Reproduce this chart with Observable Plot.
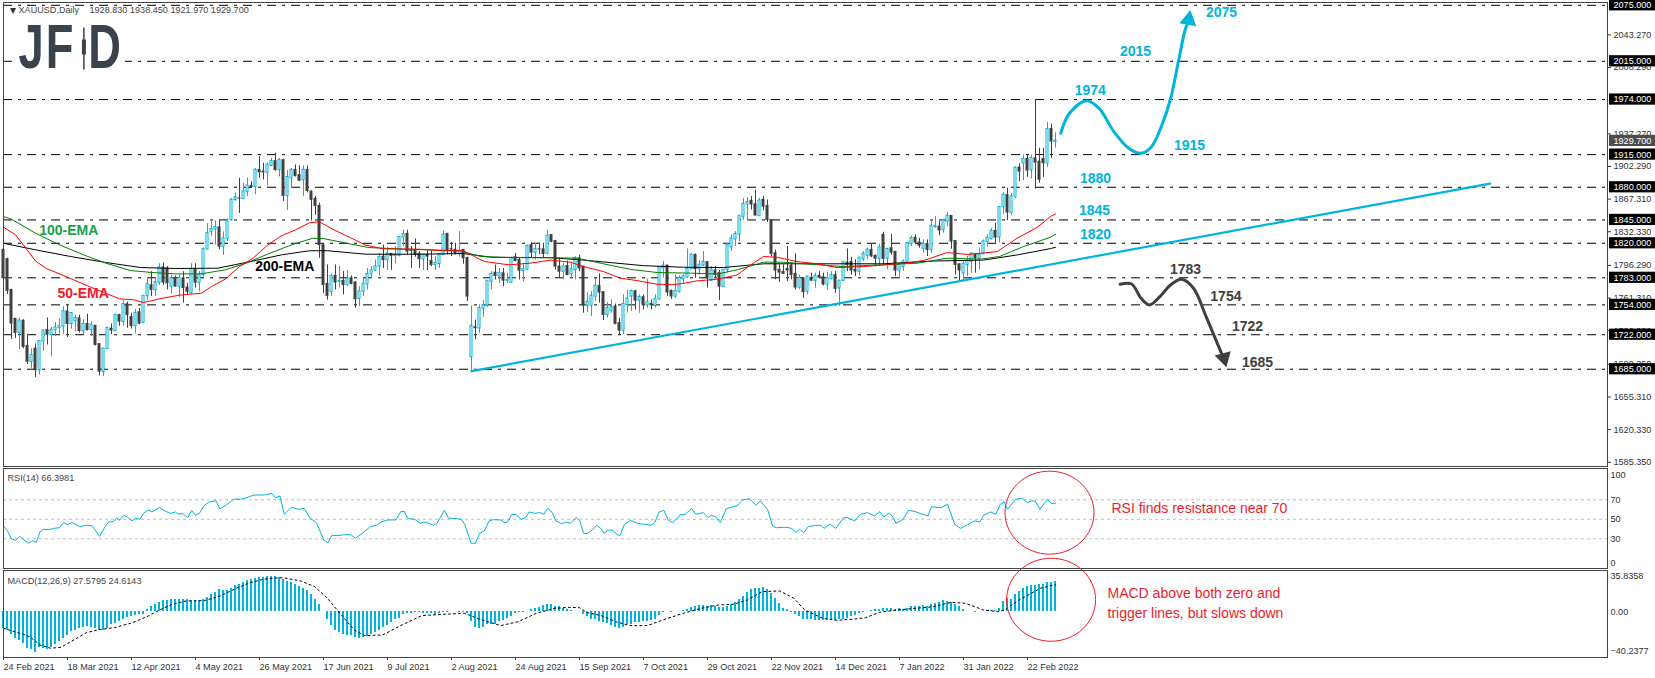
<!DOCTYPE html>
<html>
<head>
<meta charset="utf-8">
<script src="https://cdn.jsdelivr.net/npm/d3@7"></script>
<script src="https://cdn.jsdelivr.net/npm/@observablehq/plot@0.6"></script>
<style>
html,body{margin:0;padding:0;background:#fff;width:1655px;height:678px;overflow:hidden}
#chart svg{display:block;overflow:visible;max-width:none}
</style>
</head>
<body>
<div id="chart"></div>
<script>
// ---------- price series (one value per daily bar, index 0 = 24 Feb 2021) ----------
const open = [
1813,1803,1770,1739,1724,1737,1710,1693,1707,1684,
1715,1727,1722,1727,1729.5,1731,1747,1733.5,1737,1739.6,
1726,1733.5,1727,1731.5,1712,1682.5,1707,1728.5,1726,1743,
1736,1754.6,1741,1731.4,1746,1735,1763.5,1775,1770,1778,
1794,1793,1773.6,1782.5,1773.6,1782.5,1772.5,1767,1792,1777.8,
1786,1813.5,1832.5,1835,1837,1816.4,1825,1845,1866.5,1868,
1867.5,1875.4,1881.5,1880.7,1898.6,1896.8,1895.8,1903,1908,1898.6,
1909,1870.8,1889.7,1898.6,1893,1887.9,1898.6,1875.4,1867.6,1860,
1818,1776.5,1768,1785,1779,1779.7,1775.4,1782.5,1778,1760.4,
1768.3,1776.1,1786.8,1791,1795,1805.7,1802,1808.6,1806.5,1806.5,
1826.5,1830,1812,1811.8,1808.6,1803,1807.5,1801,1796.8,1798,
1807.5,1830,1813.6,1813,1809.3,1812.9,1804.3,1698.5,1730,1729,
1750.3,1753.5,1779,1788.5,1785,1787.8,1780,1778,1805,1802,
1790.6,1792,1818,1810,1813.5,1813.5,1809,1828.8,1822.4,1795,
1789.6,1795.6,1787,1791.4,1803.9,1795,1753.6,1753.3,1763,1774.3,
1767.6,1743.3,1748,1752.2,1734.4,1726.5,1754,1763,1768.6,1758.6,
1762.2,1753.6,1755,1753,1760,1793.3,1796,1769,1763,1768.3,
1781.5,1783.6,1792.2,1807.5,1792.2,1796.5,1799.7,1780,1790.8,1788,
1773.6,1791.5,1815.8,1824.3,1829.3,1848.6,1861.8,1865.4,1861.8,1849.3,
1866.5,1860,1845,1809.3,1791.5,1789.3,1792.6,1795.8,1787.2,1772.6,
1782.2,1768.3,1783,1780,1785,1783.6,1775.8,1781.8,1785.8,1771.8,
1780,1799.3,1800,1791.5,1789.7,1802.9,1806.8,1812.9,1806.5,1803.3,
1829,1803.6,1814.7,1810.8,1790.8,1795,1800.4,1819.3,1825.8,1820.8,
1814.3,1819.3,1812.9,1837.5,1837.9,1834.3,1843.6,1849.3,1822.5,1797.5,
1787.9,1796.8,1800.4,1807.5,1804,1808.6,1821.8,1824.7,1833.2,1826.4,
1859.3,1871.8,1852.9,1870,1901,1905.7,1910.3,1898.6,1911,1907.5,
1910.3,1905.7,1942.5,1928.83];
const high = [
1814,1804,1770.5,1739.5,1740,1738,1721,1707,1712,1715.5,
1727,1740,1730,1735,1739.6,1752,1754.6,1745.5,1743,1743,
1738,1744,1736,1732,1712,1707,1730,1733.5,1744,1744,
1758.5,1757,1745,1749,1750,1764,1783.5,1789.6,1783,1798,
1799,1795,1786,1785,1786,1789.6,1777,1798,1798,1789.6,
1815,1841,1845.7,1844,1844.3,1832,1846,1868,1874,1889.7,
1884,1889.7,1886,1900,1912.9,1905.8,1905.8,1911,1916.5,1911,
1910,1898,1900,1904,1903,1903,1903,1876,1870,1863,
1818,1796.8,1787,1796.8,1795,1789.7,1790.8,1785,1779,1773.6,
1782.5,1793,1795,1802,1809,1818,1815.7,1809,1816.5,1827,
1834,1834,1816.5,1824.7,1811,1808,1812,1812,1805.7,1809,
1833,1830.7,1820.7,1820,1832.5,1813,1805,1752.8,1737.8,1754,
1758.5,1779.6,1789.6,1796.7,1793,1793,1788,1805,1809,1804,
1798.5,1818,1820.6,1820,1820,1820,1834.2,1829,1822.4,1803.8,
1798.5,1801,1797.8,1805.6,1807.4,1795,1767,1768.3,1782.5,1787.2,
1767.6,1756.5,1759.3,1755,1739.7,1764.7,1770,1770,1769.3,1764.7,
1764.7,1781.5,1759.3,1764.7,1795,1800.4,1796.8,1770,1786,1785,
1786,1814,1809.3,1808.6,1801.5,1811,1800.4,1795,1795,1790.8,
1791.5,1820,1829,1832.5,1849.3,1868.2,1869,1870,1877,1868.2,
1870,1866.5,1845,1812.9,1796.8,1796.8,1816.5,1798.6,1808.6,1786,
1782.2,1785,1788,1788,1789.7,1788,1788.6,1789.7,1789.7,1779.7,
1800.4,1814,1805,1802.2,1805,1811,1814.7,1819,1807.5,1819,
1831.8,1814.7,1829.7,1811,1798.6,1802.2,1821,1827.9,1829,1825.4,
1823.6,1823.6,1844.3,1848.6,1843.2,1845.7,1853.2,1849.3,1822.5,1797.5,
1800.4,1805.8,1810,1808.6,1814.7,1823.6,1829,1836,1841.5,1858.6,
1874.3,1879,1873.6,1902,1905,1914.6,1914.6,1914.6,1974,1921.8,
1921.8,1949.6,1947.8,1938.45];
const low = [
1781,1765,1717,1718,1706,1707,1690,1686,1676,1679,
1704,1711,1698.5,1720,1723,1722,1719,1728,1725,1724,
1722,1726,1720,1710,1678,1677,1706,1722,1726,1731,
1730.7,1729,1728,1723,1732.5,1734,1758.5,1763,1763,1775,
1775,1770,1766,1773,1762,1756,1764,1765,1772,1768,
1784,1813,1827,1818,1813,1807,1822,1843.5,1865,1852,
1867,1870,1879,1872,1889.7,1888,1881.5,1902,1897,1891,
1864.7,1855,1879,1891,1886,1870,1874,1844,1850,1804,
1766,1759,1763,1770,1772,1764.7,1773.6,1775.4,1750.4,1752,
1763,1770,1782.5,1789.7,1785,1793,1791,1791,1798,1805.7,
1816.5,1807.5,1793,1805,1793,1790.7,1790.7,1795,1790.7,1793,
1807,1807.5,1805.7,1807.5,1805,1797.5,1757.5,1682.5,1716.4,1723.5,
1740.7,1751.4,1770,1780.7,1777,1773.5,1777,1777,1800,1780.7,
1778.8,1791.4,1804.6,1802,1808,1804,1807.5,1820.6,1791.4,1782.4,
1780.7,1785.3,1782.4,1780.7,1789.6,1745,1745.8,1741.5,1757.6,1755.8,
1737.2,1739.7,1745,1732.6,1721.9,1721.9,1745,1746.9,1748.6,1745,
1748.6,1750.4,1748.6,1750.4,1759.3,1782.6,1763,1760,1761,1766.5,
1777.2,1782.6,1791.5,1782.6,1786,1795,1771.8,1779,1782.6,1758.6,
1773,1788,1811,1816.5,1821.5,1844.3,1844.3,1855.7,1849.3,1848.6,
1854.7,1842.2,1805.8,1780.8,1778,1787,1779,1780.8,1770,1770,
1761,1764.7,1779,1771.8,1782.6,1774.3,1769.3,1780.8,1766.5,1752.2,
1779,1789.7,1786,1784.3,1785,1800.4,1802.2,1804.7,1795,1796.8,
1796.8,1791.5,1807.5,1784.3,1781.8,1789.7,1798.6,1816.5,1818.3,1814.7,
1809.3,1805.8,1809.3,1836,1827.9,1830.8,1837.9,1813.6,1786,1780,
1780,1784.3,1787.9,1787.9,1791.5,1807.5,1815.7,1823.6,1820,1820.7,
1850.4,1844.3,1849.7,1868.2,1886,1887,1890.7,1889,1877.9,1884.3,
1890.4,1901,1911,1921.97];
const close = [
1782.5,1769,1734,1724,1737,1709,1693,1700,1684,1715,
1726.4,1722,1727,1729.5,1731,1747,1733.5,1745,1739.6,1726,
1733.5,1727,1732.5,1711,1682.5,1707,1729,1726.4,1743,1736,
1754.6,1743,1731.4,1745,1734,1763.5,1776,1770,1778,1794,
1778,1777,1782.5,1773.6,1782.5,1772,1768,1792,1777.8,1786,
1813.5,1830.7,1835,1837,1816.4,1825,1844,1866.5,1869,1867.8,
1875.4,1881.5,1880,1898.6,1896,1895.8,1904,1908,1898.6,1909,
1870.8,1890.8,1898.6,1892,1887,1898.6,1876,1866.5,1860,1818,
1775.4,1763.6,1785,1778,1779.6,1775.4,1781.8,1776.5,1760,1768.3,
1776.5,1786.8,1790.7,1795,1805,1802,1808.6,1806.5,1807.5,1826.5,
1829.7,1811,1811.8,1807.5,1803,1807.5,1805.7,1796.8,1798.6,1808,
1829,1812,1813.3,1809.3,1811.8,1804,1762.9,1731.4,1729,1750.3,
1753.5,1779.6,1787,1785,1787.8,1780,1780.7,1803.9,1801,1790.6,
1792,1817,1810,1813.5,1813.4,1808.5,1827.8,1821.7,1795,1789.6,
1795,1786,1792,1803.9,1793,1753.6,1757,1763.6,1774.3,1767.2,
1743.3,1750.4,1751.5,1733.6,1726.5,1754.7,1760.4,1768.6,1758.6,1762.2,
1754,1756.5,1753.6,1760,1794,1795.8,1767.2,1763,1768.6,1782.6,
1784.3,1792.2,1807.5,1792.2,1796.8,1799.7,1782.6,1791.5,1786,1773.6,
1791.5,1818.3,1824.7,1829.7,1849.3,1861.8,1864,1861.5,1849.7,1865.7,
1859.3,1845,1808.6,1790.8,1788.6,1787.2,1790.8,1786,1772.6,1782.6,
1767.6,1784,1780,1785,1783,1775.8,1782.6,1785.8,1771.1,1779.7,
1799.3,1796.8,1790.8,1789.7,1804.3,1808.6,1812.9,1805.8,1803.6,1815.4,
1803.3,1813.6,1810,1790.8,1796.8,1800.4,1820,1825.4,1820.8,1817.5,
1819.3,1812.9,1838.6,1838.2,1833.6,1844.3,1849.3,1821.8,1796.8,1790.8,
1797.9,1801,1808.6,1804,1807.5,1821.8,1825.4,1833,1826.1,1858.6,
1871.8,1852.9,1870,1900.7,1896.8,1910.3,1897.9,1911,1906.4,1888,
1905.7,1942,1929,1929.7];

// moving averages: [bar, price]
const ema50 = [[0,1837.2],[3,1829],[5.4,1815.8],[8,1801],[10.7,1793],[16,1783.7],[21,1774.4],[26.5,1764.8],[29,1760.5],[32.6,1759.4],[35,1756.5],[39.6,1761],[44,1764.4],[49.5,1766.5],[52,1773.7],[55.4,1781.5],[59,1795],[62.4,1804],[66,1818],[69.5,1828],[73,1834.4],[76.5,1842],[79,1843],[82.6,1834.4],[87,1825.4],[90.5,1818],[95,1814],[103.6,1813.7],[110,1812],[115,1812],[117.7,1805.8],[120.3,1800.4],[126.4,1796.9],[131.7,1798.7],[136.8,1802],[141.75,1799.7],[145,1795],[150,1789.7],[154.25,1782.6],[158.4,1780],[163.5,1776],[168.5,1776],[173.4,1779.7],[178.4,1781.5],[183.4,1786],[186.75,1796.8],[190,1805.8],[193.4,1805],[198.4,1800.4],[203.4,1798],[208.4,1794],[215,1795],[220.3,1796.8],[225.1,1798.6],[230,1801.5],[235.9,1810],[241,1808],[248.4,1811],[253.4,1825.4],[258.4,1837],[261.75,1848.6],[263,1851.4]];
const ema100 = [[0,1848.6],[2,1845.8],[8,1830.8],[14,1818.3],[20,1807.6],[25.6,1798.7],[31.7,1790.8],[37,1788.7],[43,1787.2],[49.3,1787.2],[55.4,1791.5],[60.7,1798.7],[66,1808.3],[72,1818.3],[77.3,1825.4],[80,1825],[87,1819],[91.4,1815.4],[100,1813.7],[114,1812],[119.4,1805.8],[126.4,1804.7],[136.8,1804.5],[143.4,1804],[150,1798],[156.75,1792],[163.5,1788.6],[172,1788],[178.4,1787],[183.4,1791.5],[190,1799.7],[195,1799.7],[201.75,1797.5],[210,1795],[218.4,1796.8],[228.4,1798.6],[235.9,1804],[244.25,1803],[249,1805.8],[255,1816.5],[261.75,1826.5],[263,1829.7]];
const ema200 = [[0,1820],[8,1813],[16.8,1805.8],[25.6,1799.4],[34.3,1794],[43,1793],[53.6,1793.3],[62.4,1801],[69.5,1807.6],[76.5,1812],[81,1812],[90.5,1808.3],[104.5,1808.3],[115,1809],[122,1805],[136.8,1804.6],[145,1802],[160,1796],[170,1794.3],[180,1794],[190,1798],[201.75,1798],[220,1798],[232.75,1801],[245,1802],[253.4,1807.5],[261.75,1814.3],[263,1815.7]];

// drawn objects: [bar, price]
const trendLine = [[117,1683],[371.6,1884]];
const bullPath = [[264.3,1937.9],[266.5,1959.3],[270.8,1972.8],[273.9,1964.6],[277.6,1939.6],[281.3,1921.8],[284.4,1916.4],[287,1923.5],[289.6,1946.7],[291.8,1975.4],[293.8,2016.4],[295.4,2048.5],[296.2,2058]];
const bullHead = [[296.3,2059.5]];
const bearPath = [[279.15,1776.1],[282,1776.4],[284.4,1761],[286.5,1753.9],[289.1,1762.8],[291.75,1775.3],[294.5,1781.4],[297.5,1771.8],[300.65,1741.4],[303.8,1709.2],[304.7,1700]];
const bearHead = [[305.1,1697.1]];

// logo backing, candle glyph between the letters
const logoBox = [[2.25,30.5,2003.5,2057]];
const logoWick = [[20.1,2005.7,2050.7]];
const logoBody = [[20.1,2021.7,2037.8]];

// horizontal levels and their labels
const levels = [2075,2015,1974,1915,1880,1845,1820,1783,1754,1722,1685];
const lastPrice = [1929.7];
const priceTicks = [2043.27,2008.29,1937.27,1902.29,1867.31,1832.33,1796.29,1761.31,1726.33,1690.35,1655.31,1620.33,1585.35];
const blueLabels = [["2075",304.5,2067],["2015",283,2025],["1974",271.7,1983.4],["1915",296.5,1924.6],["1880",273,1888.9],["1845",272.75,1855],["1820",273,1829]];
const darkLabels = [["1783",295.5,1792.1],["1754",305.6,1762.7],["1722",311,1730.6],["1685",313.5,1692]];
const emaLabels = [["100-EMA",16.3,1833.5,"#19a24a"],["50-EMA",19.9,1765.7,"#ee1c2b"],["200-EMA",70.3,1795,"#000000"]];

// RSI: [bar, value]
const rsiLine = [[0,43.1],[1,38],[2,30.1],[3,28.4],[4,32.5],[5.1,28.8],[6.2,25.4],[7.3,28.1],[8.2,26.4],[9.1,37],[10,39.7],[11.3,39.4],[12.6,40.7],[14,41.4],[15,46.6],[16,44.5],[17.1,46.6],[19.1,42.5],[20.7,43.8],[22.1,43.5],[24,32.5],[25.6,43.8],[26.3,47.2],[27.4,47.6],[28.3,51],[29,49],[30.1,54.1],[31.2,51.7],[32.1,48.3],[33,51],[34.1,50],[35,56.1],[36.1,59.6],[37.2,57.8],[39,62],[40.5,58.2],[41.7,56.1],[43,57.5],[43.6,55.4],[44.8,55.8],[46.1,51.7],[47,59.2],[48,54.1],[49.1,56.8],[50.2,64.3],[51.5,67.8],[53.1,69.1],[54.1,60.6],[56,65.4],[57.5,70.5],[59.3,70.8],[60.9,72.2],[62.6,74.9],[65.3,74.9],[67,76.7],[68,72.2],[69.1,73.9],[70.2,55.1],[72,62.3],[73.8,60.2],[75.2,61.3],[76.5,51.7],[78.2,46.6],[80.1,28.8],[81.1,26],[82.1,33.6],[83.6,33.2],[85.2,34.2],[86.8,34.2],[88,30.5],[89.4,34.6],[91.7,42.5],[93.2,43.8],[94.4,47.2],[96.1,49.3],[98.1,49.3],[99.3,57.8],[100.2,58.2],[101.1,50.7],[102.8,50],[104.2,45.9],[105.1,47.2],[106.4,45.9],[107.5,43.8],[108.4,45.9],[110.2,59.2],[111.3,51],[112.7,51],[114.4,50],[115.3,44.9],[116.9,25.4],[118,25.4],[119,35.6],[120.2,38],[121.4,48.3],[122.5,49.6],[124.3,49.3],[125.3,46.6],[126,47.2],[127.1,55.1],[128.3,54.4],[129.4,50],[130.5,51.7],[131.4,57.5],[132.7,56.1],[134.1,56.8],[135.1,55.1],[136.1,61.3],[137.2,56.8],[138.1,48.3],[139.3,45.9],[140,45.9],[140.7,47.2],[141.7,45.9],[143.2,51.7],[144.1,48.3],[145,35.6],[145.9,35.3],[147.2,39],[148.3,43.8],[149.4,40.4],[150.1,35.6],[151.2,38.7],[152.1,39],[153.4,34.6],[154.1,32.9],[155.2,44.5],[156.75,49],[158.4,45.9],[160.1,44.9],[161.9,43.8],[162.8,46.6],[163.9,57.5],[165.1,59.2],[166.2,49],[167.3,46.6],[168.2,50],[169.1,54.4],[170.4,55.1],[172,60.9],[173.1,55.1],[174.9,56.8],[176.2,51.7],[176.9,54.1],[178,52.7],[179.2,46.6],[180.7,60.9],[182.5,63],[183.4,63.7],[184.7,69.8],[186.5,71.2],[188.1,64.3],[189.2,68.8],[191,60.2],[192.3,43.1],[193.2,41.4],[195.9,41.8],[197.2,40.4],[198.1,36.3],[199,39.7],[200.1,36.3],[201.2,42.5],[203,43.8],[204.3,43.8],[205.2,40.7],[206.6,44.9],[208.1,40.7],[210,51.7],[211,51.7],[212.8,48.3],[214.2,55.1],[216,56.8],[217.7,53.4],[219.1,57.8],[220.1,52.4],[221.3,56.1],[222.2,53.4],[223.1,45.9],[224.9,50],[226.2,59.2],[228,57.8],[229.3,55.8],[231.1,53.4],[232,63],[233.4,62],[234.4,62],[236,65.4],[237.8,44.9],[239.2,40.7],[240.9,44.2],[242.7,48.3],[244.1,47.2],[245,54.1],[246.75,57.5],[248.1,55.1],[249.2,65.4],[250.1,68.1],[251,60.2],[253,70.5],[254.8,71.5],[255.9,67.1],[257,68.8],[257.9,68.8],[259.1,60.2],[261,70.5],[261.9,66.4],[262.8,66.1],[263,66.4]];
const rsiLevels = [70,50,30];

// MACD histogram, one per bar
const macdBars = [
-14.8,-16.4,-20.3,-24.5,-25.5,-29.1,-33,-34.5,-37,-32.4,
-33.6,-33.9,-32.4,-30,-27,-24.5,-21.8,-17.9,-17,-14.8,
-14.2,-13.3,-14.2,-14.8,-17,-16.4,-14.8,-11.8,-10.3,-8.8,
-6.4,-5.2,-4.2,-3.3,-2.7,-2.7,2.4,4.8,6.4,8.8,
10,10.3,10.9,10.9,10.9,10.9,10.9,10.3,10.3,10.3,
10.9,13.3,15.5,17.9,20,19.1,19.1,21.5,23.9,25.1,
27,28.5,29.4,30,31.2,31.5,31.8,31.8,32.4,31.5,
29.1,27.6,27,25.1,23,21.5,19.1,15.5,11.5,6.4,
0.3,-7.3,-12.7,-17,-18.8,-20.9,-21.5,-21.8,-23.3,-23.9,
-23,-22.4,-20.3,-18.5,-16.4,-13.9,-12.4,-9.4,-7.3,-5.8,
-2.7,-1.8,-1.2,-0.9,-0.9,-1.2,-1.2,-1.8,-2.4,-1.2,
-0.6,-0.2,0.2,0.3,-0.2,-0.2,-1.2,-8.8,-14.2,-14.8,
-14.2,-11.8,-11.8,-11.2,-8.8,-8.2,-5.8,-4.2,-1.2,-0.6,
-0.2,0.2,2.4,3.3,4.2,5.5,7,6.4,4.8,4.8,
3.3,1.8,0.9,0.3,0.3,-2.7,-4.2,-7.3,-7.3,-8.8,
-9.4,-10.3,-12.4,-14.2,-14.8,-14.2,-11.8,-11.2,-9.7,-9.4,
-8.8,-8.8,-8.2,-6.7,-3.3,-0.2,0.2,-0.2,0.2,0.2,
0.9,1.8,3.9,4.8,5.8,5.8,4.8,5.5,4.8,3.9,
3.9,4.8,7,8.8,10.9,13.9,17.9,20,20.9,21.5,
22.4,20,16.4,12.4,7.3,3.3,2.4,-0.2,-2.7,-4.2,
-6.4,-7,-7.3,-7.6,-7.9,-8.2,-8.2,-7.9,-7.9,-7.3,
-6.7,-5.8,-4.2,-3.3,-1.2,-0.2,0.2,0.9,1.8,2.4,
2.7,3.3,3.6,2.4,2.7,1.8,3.3,4.8,4.8,4.8,
5.5,5.2,6.4,7.9,8.8,10,9.4,8.8,6.4,4.8,
1.8,0.3,0.2,-0.2,0.2,0.3,0.9,1.2,1.5,3.3,
9.4,12.4,11.5,15.5,18.5,21.5,23,23.9,24.5,25.1,
25.1,26.7,27,27.6];
// MACD signal: [bar, value]
const macdSignal = [[0,-14.8],[1.9,-17],[5,-20.3],[6.8,-23],[9.1,-30],[11.8,-33],[14.4,-32.1],[17.1,-26.4],[20.7,-18.8],[24.3,-15.8],[27.8,-14.2],[32.3,-9.7],[35.9,-4.2],[39,1.8],[42.1,6.9],[45.7,10],[50.2,10.3],[54.2,14.5],[58.2,21.5],[61.75,26.7],[65.3,30],[69.8,31.2],[74.3,28.2],[77.8,23],[81,12.4],[84.1,-1.2],[87.7,-16.4],[90.3,-21.5],[94.8,-20.9],[99.3,-12.4],[104.6,-3.3],[110,-2.1],[115.3,-1.2],[118.9,-6.4],[124.3,-12.4],[128.7,-8.8],[133.2,-1.2],[137.8,3.3],[141.4,4.2],[144,3.9],[145.9,-0.6],[149.4,-3.3],[153,-8.8],[156.6,-12.4],[161,-12.4],[165.5,-6.4],[170,-1.2],[174.4,3.3],[178.9,6.4],[182.5,7],[186,10.9],[189.6,18.5],[194.1,19.1],[197.6,12.4],[200.3,1.8],[204.8,-5.8],[208.4,-7.6],[212.8,-6.4],[215.5,-5.2],[219,-0.3],[223.5,1.8],[228,3.3],[232.5,4.8],[237,8.8],[240.5,7.9],[245,1.8],[248.5,0.3],[250.3,1.8],[253.9,10.9],[259.25,21.5],[261.9,24],[263,24.6]];

// date axis
const dateTicks = [0,16,32,48,64,80,96,112,128,144,160,176,192,208,224,240,256];
const dateLabels = ["24 Feb 2021","18 Mar 2021","12 Apr 2021","4 May 2021","26 May 2021","17 Jun 2021","9 Jul 2021","2 Aug 2021","24 Aug 2021","15 Sep 2021","7 Oct 2021","29 Oct 2021","22 Nov 2021","14 Dec 2021","7 Jan 2022","31 Jan 2022","22 Feb 2022"];

// annotation circles and captions
const rsiCircle = [[261.5,56.8]];
const macdCircle = [[261.9,11.1]];

// ---------- styles ----------
const BLUE = "#00b4dc", DARK = "#404040", RED = "#ec1c2c", INK = "#333333", FONT = "Liberation Sans, Arial, sans-serif";
const LOGO = "#39434e";
const LABEL = 9.1;
const X = {domain:[0,401], axis:null};
const base = {width:1655, marginLeft:3, marginRight:48, style:{fontFamily:FONT, fontSize:LABEL+"px", background:"none", overflow:"visible"}};
const bars = d3.range(open.length).map(i => ({i, o:open[i], h:high[i], l:low[i], c:close[i]}));
const up = bars.filter(d => d.c >= d.o), down = bars.filter(d => d.c < d.o);
const ellipse = {draw(c, size){
  const r = Math.sqrt(size/Math.PI), a = r*1.035, b = r*0.965, k = 0.5523;
  c.moveTo(a,0);
  c.bezierCurveTo(a,k*b,k*a,b,0,b);
  c.bezierCurveTo(-k*a,b,-a,k*b,-a,0);
  c.bezierCurveTo(-a,-k*b,-k*a,-b,0,-b);
  c.bezierCurveTo(k*a,-b,a,-k*b,a,0);
  c.closePath();
}};
const label = (rows, color, opts={}) => Plot.text(rows, {x:d=>d[1], y:d=>d[2], text:d=>d[0], fill:color, fontSize:14, fontWeight:"bold", ...opts});
const corner = (text, dx, dy, opts={}) => Plot.text([text], {frameAnchor:"top-left", textAnchor:"start", lineAnchor:"middle", dx, dy, fill:"#444", fontSize:LABEL, ...opts});
const f3 = d3.format(".3f");

// ---------- main price panel ----------
const main = Plot.plot({...base, height:467, marginTop:2, marginBottom:1,
  x:X, y:{domain:[1580.8,2078]},
  marks:[
    Plot.ruleY(levels, {stroke:"#000", strokeWidth:1, strokeDasharray:"9,6,3,6"}),
    Plot.rect(logoBox, {x1:d=>d[0],x2:d=>d[1],y1:d=>d[2],y2:d=>d[3],fill:"white"}),
    corner("JFD", 15, 45, {className:"logo", fill:LOGO, fontSize:63, fontWeight:"bold"}),
    Plot.ruleX(logoWick, {x:d=>d[0], y1:d=>d[1], y2:d=>d[2], stroke:LOGO, strokeWidth:1.5}),
    Plot.ruleX(logoBody, {x:d=>d[0], y1:d=>d[1], y2:d=>d[2], stroke:LOGO, strokeWidth:4}),
    Plot.ruleX(up, {x:"i", y1:"l", y2:"h", stroke:BLUE}),
    Plot.ruleX(down, {x:"i", y1:"l", y2:"h", stroke:DARK}),
    Plot.rect(up, {x1:d=>d.i-0.25, x2:d=>d.i+0.25, y1:"o", y2:"c", fill:"white", stroke:BLUE, strokeWidth:1, insetTop:-0.25, insetBottom:-0.25}),
    Plot.rect(down, {x1:d=>d.i-0.375, x2:d=>d.i+0.375, y1:"o", y2:"c", fill:DARK, insetTop:-0.5, insetBottom:-0.5}),
    Plot.line(ema200, {stroke:"#000", strokeWidth:1}),
    Plot.line(ema100, {stroke:"#008000", strokeWidth:1}),
    Plot.line(ema50, {stroke:"#ff0000", strokeWidth:1}),
    Plot.line(trendLine, {stroke:BLUE, strokeWidth:2.2}),
    Plot.line(bullPath, {stroke:BLUE, strokeWidth:3, curve:"catmull-rom"}),
    Plot.dot(bullHead, {symbol:"triangle", r:6.4, fill:BLUE, rotate:10}),
    Plot.line(bearPath, {stroke:DARK, strokeWidth:3, curve:"catmull-rom"}),
    Plot.dot(bearHead, {symbol:"triangle", r:6.2, fill:DARK, rotate:165}),
    label(blueLabels, BLUE),
    label(darkLabels, DARK),
    Plot.text(emaLabels, {x:d=>d[1], y:d=>d[2], text:d=>d[0], fill:d=>d[3], fontSize:14, fontWeight:"bold"}),
    Plot.axisY({anchor:"right", ticks:priceTicks, tickFormat:f3, tickSize:3, tickPadding:3, label:null, color:INK, fontSize:LABEL}),
    Plot.rect(levels, {x1:401.5, x2:413, y1:d=>d-6, y2:d=>d+6, fill:"#000"}),
    Plot.text(levels, {x:401, y:d=>d, text:f3, dx:6, textAnchor:"start", fill:"white", fontSize:LABEL}),
    Plot.rect(lastPrice, {x1:401.5, x2:413, y1:d=>d-6, y2:d=>d+6, fill:"#4d4d4d"}),
    Plot.text(lastPrice, {x:401, y:d=>d, text:f3, dx:6, textAnchor:"start", fill:"white", fontSize:LABEL}),
    corner("▾", 6, 8, {fontSize:12, fill:"#333"}),
    corner("XAUUSD,Daily", 15, 8),
    corner("1928.830 1938.450 1921.970 1929.700", 86, 8),
    Plot.frame({stroke:"#444", strokeWidth:1})
  ]});
// the logo's letters are condensed and spaced around the candle glyph
const logoText = main.querySelector(".logo text");
if (logoText) {
  logoText.setAttribute("transform", logoText.getAttribute("transform") + " scale(0.72,1)");
  logoText.setAttribute("x", "0 38 97");
}

// ---------- RSI panel ----------
const rsi = Plot.plot({...base, height:102, marginTop:1, marginBottom:1,
  x:X, y:{domain:[-0.5,102.1], axis:null},
  marks:[
    Plot.ruleY(rsiLevels, {stroke:"#bdbdbd", strokeWidth:1, strokeDasharray:"3,3"}),
    Plot.line(rsiLine, {stroke:BLUE, strokeWidth:1}),
    Plot.dot(rsiCircle, {symbol:ellipse, r:43, fill:"none", stroke:RED, strokeWidth:1}),
    Plot.text(["RSI finds resistance near 70"], {x:277, y:60.7, textAnchor:"start", fill:RED, fontSize:14}),
    Plot.text(rsiLevels, {x:401, y:d=>d, text:String, dx:3, textAnchor:"start", fill:INK, fontSize:LABEL}),
    Plot.text([100], {x:401, y:d=>d, text:String, dx:3, dy:5, textAnchor:"start", fill:INK, fontSize:LABEL}),
    Plot.text([0], {x:401, y:d=>d, text:String, dx:3, dy:-5, textAnchor:"start", fill:INK, fontSize:LABEL}),
    corner("RSI(14) 66.3981", 4, 9.5),
    Plot.frame({stroke:"#444", strokeWidth:1})
  ]});

// ---------- MACD panel with date axis ----------
const macd = Plot.plot({...base, height:109, marginTop:1, marginBottom:21,
  x:X, y:{domain:[-41.4,37.7], axis:null},
  marks:[
    Plot.ruleX(macdBars, {x:(d,i)=>i, y1:0, y2:d=>d, stroke:BLUE, strokeWidth:2, dx:-0.5, shapeRendering:"crispEdges"}),
    Plot.line(macdSignal, {stroke:"#000", strokeWidth:1, strokeDasharray:"2,3"}),
    Plot.dot(macdCircle, {symbol:ellipse, r:43, fill:"none", stroke:RED, strokeWidth:1}),
    Plot.text(["MACD above both zero and"], {x:276, y:16.4, textAnchor:"start", fill:RED, fontSize:14}),
    Plot.text(["trigger lines, but slows down"], {x:276, y:-1.5, textAnchor:"start", fill:RED, fontSize:14}),
    Plot.text([35.8358], {x:401, y:d=>d, text:d=>d3.format(".4f")(d), dx:3, dy:4, textAnchor:"start", fill:INK, fontSize:LABEL}),
    Plot.text([0], {x:401, y:d=>d, text:()=>"0.00", dx:3, textAnchor:"start", fill:INK, fontSize:LABEL}),
    Plot.text([-40.2377], {x:401, y:d=>d, text:d=>d3.format(".4f")(d), dx:3, dy:-5, textAnchor:"start", fill:INK, fontSize:LABEL}),
    Plot.axisX({ticks:dateTicks, tickFormat:d=>dateLabels[dateTicks.indexOf(d)], tickSize:3, tickPadding:3, textAnchor:"start", label:null, color:INK, fontSize:LABEL}),
    corner("MACD(12,26,9) 27.5795 24.6143", 4, 10.5),
    Plot.frame({stroke:"#444", strokeWidth:1})
  ]});

document.getElementById("chart").append(main, rsi, macd);
</script>
</body>
</html>
